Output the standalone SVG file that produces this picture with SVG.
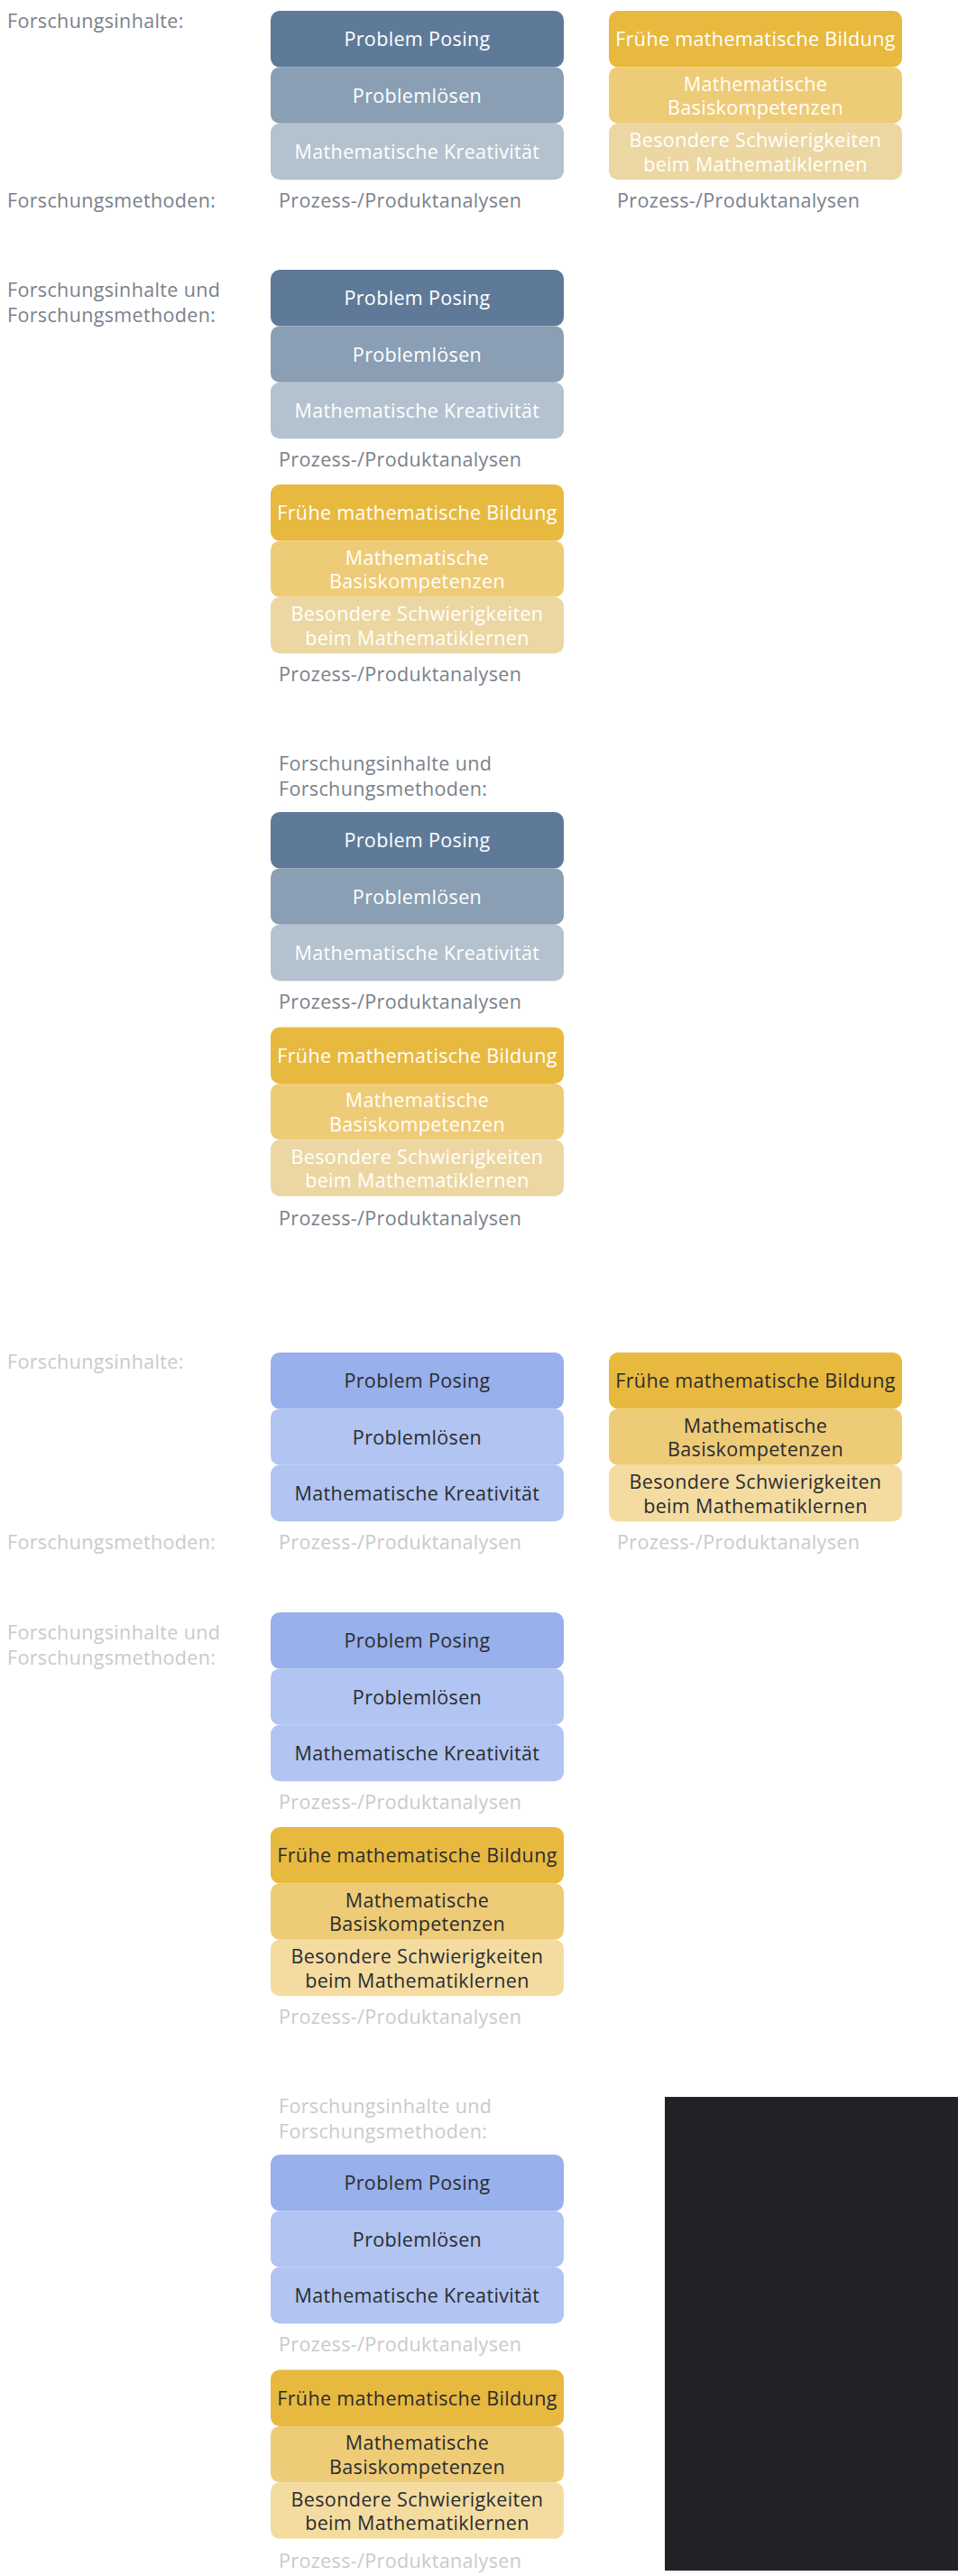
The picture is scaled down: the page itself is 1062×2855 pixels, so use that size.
<svg xmlns="http://www.w3.org/2000/svg" width="1062" height="2855" viewBox="0 0 1062 2855">
<style>
text{font-family:"Open Sans","Noto Sans",sans-serif;font-size:21.5px;letter-spacing:0.35px}
.c{text-anchor:middle}
.b1{fill:#5f7a99}.b2{fill:#8a9fb4}.b3{fill:#b4c2cf}
.y1{fill:#e8b93f}.y2{fill:#eecb76}.y3{fill:#ecd7a3}.y3b{fill:#f4dca0}
.v1{fill:#98b0eb}.v2{fill:#b1c4f2}
.tw{fill:#ffffff}.td{fill:#2b2c30}
.lg{fill:#7a818b}.ll{fill:#c9cacd}
</style>
<rect width="1062" height="2855" fill="#ffffff"/>
<g id="connectors"/>

<!-- Section 1 -->
<g id="sec1">
  <text id="s1-lbl-inhalte" class="lg" x="8" y="31">Forschungsinhalte:</text>
  <text id="s1-lbl-methoden" class="lg" x="8" y="230">Forschungsmethoden:</text>
  <g id="s1-pp"><rect class="b1" x="300" y="12" width="325" height="62.4" rx="10"/><text class="c tw" x="462.5" y="51.2">Problem Posing</text></g>
  <g id="s1-pl"><rect class="b2" x="300" y="74.4" width="325" height="62.4" rx="10"/><text class="c tw" x="462.5" y="113.6">Problemlösen</text></g>
  <g id="s1-mk"><rect class="b3" x="300" y="136.8" width="325" height="62.4" rx="10"/><text class="c tw" x="462.5" y="176">Mathematische Kreativität</text></g>
  <g id="s1-fmb"><rect class="y1" x="675" y="12" width="325" height="62.4" rx="10"/><text class="c tw" x="837.5" y="51.2">Frühe mathematische Bildung</text></g>
  <g id="s1-mbk"><rect class="y2" x="675" y="74.4" width="325" height="62.4" rx="10"/><text class="c tw" x="837.5" y="100.6">Mathematische</text><text class="c tw" x="837.5" y="127.1">Basiskompetenzen</text></g>
  <g id="s1-bsm"><rect class="y3" x="675" y="136.8" width="325" height="62.4" rx="10"/><text class="c tw" x="837.5" y="163">Besondere Schwierigkeiten</text><text class="c tw" x="837.5" y="189.5">beim Mathematiklernen</text></g>
  <text id="s1-pa1" class="lg" x="309" y="230">Prozess-/Produktanalysen</text>
  <text id="s1-pa2" class="lg" x="684" y="230">Prozess-/Produktanalysen</text>
</g>

<!-- Section 2 -->
<g id="sec2">
  <text id="s2-lbl" class="lg" x="8" y="329">Forschungsinhalte und</text>
  <text id="s2-lbl2" class="lg" x="8" y="357">Forschungsmethoden:</text>
  <g id="s2-pp"><rect class="b1" x="300" y="299" width="325" height="62.4" rx="10"/><text class="c tw" x="462.5" y="338.2">Problem Posing</text></g>
  <g id="s2-pl"><rect class="b2" x="300" y="361.4" width="325" height="62.4" rx="10"/><text class="c tw" x="462.5" y="400.6">Problemlösen</text></g>
  <g id="s2-mk"><rect class="b3" x="300" y="423.8" width="325" height="62.4" rx="10"/><text class="c tw" x="462.5" y="463">Mathematische Kreativität</text></g>
  <text id="s2-pa1" class="lg" x="309" y="517">Prozess-/Produktanalysen</text>
  <g id="s2-fmb"><rect class="y1" x="300" y="537" width="325" height="62.4" rx="10"/><text class="c tw" x="462.5" y="576.2">Frühe mathematische Bildung</text></g>
  <g id="s2-mbk"><rect class="y2" x="300" y="599.4" width="325" height="62.4" rx="10"/><text class="c tw" x="462.5" y="625.6">Mathematische</text><text class="c tw" x="462.5" y="652.1">Basiskompetenzen</text></g>
  <g id="s2-bsm"><rect class="y3" x="300" y="661.8" width="325" height="62.4" rx="10"/><text class="c tw" x="462.5" y="688">Besondere Schwierigkeiten</text><text class="c tw" x="462.5" y="714.5">beim Mathematiklernen</text></g>
  <text id="s2-pa2" class="lg" x="309" y="755">Prozess-/Produktanalysen</text>
</g>

<!-- Section 3 -->
<g id="sec3">
  <text id="s3-lbl" class="lg" x="309" y="854">Forschungsinhalte und</text>
  <text id="s3-lbl2" class="lg" x="309" y="882">Forschungsmethoden:</text>
  <g id="s3-pp"><rect class="b1" x="300" y="900" width="325" height="62.4" rx="10"/><text class="c tw" x="462.5" y="939.2">Problem Posing</text></g>
  <g id="s3-pl"><rect class="b2" x="300" y="962.4" width="325" height="62.4" rx="10"/><text class="c tw" x="462.5" y="1001.6">Problemlösen</text></g>
  <g id="s3-mk"><rect class="b3" x="300" y="1024.8" width="325" height="62.4" rx="10"/><text class="c tw" x="462.5" y="1064">Mathematische Kreativität</text></g>
  <text id="s3-pa1" class="lg" x="309" y="1118">Prozess-/Produktanalysen</text>
  <g id="s3-fmb"><rect class="y1" x="300" y="1138.5" width="325" height="62.4" rx="10"/><text class="c tw" x="462.5" y="1177.7">Frühe mathematische Bildung</text></g>
  <g id="s3-mbk"><rect class="y2" x="300" y="1200.9" width="325" height="62.4" rx="10"/><text class="c tw" x="462.5" y="1227.1">Mathematische</text><text class="c tw" x="462.5" y="1253.6">Basiskompetenzen</text></g>
  <g id="s3-bsm"><rect class="y3" x="300" y="1263.3" width="325" height="62.4" rx="10"/><text class="c tw" x="462.5" y="1289.5">Besondere Schwierigkeiten</text><text class="c tw" x="462.5" y="1316">beim Mathematiklernen</text></g>
  <text id="s3-pa2" class="lg" x="309" y="1357.5">Prozess-/Produktanalysen</text>
</g>

<!-- Section 4 -->
<g id="sec4" transform="translate(0,1487)">
  <text id="s4-lbl-inhalte" class="ll" x="8" y="30">Forschungsinhalte:</text>
  <text id="s4-lbl-methoden" class="ll" x="8" y="230">Forschungsmethoden:</text>
  <g id="s4-pp"><rect class="v1" x="300" y="12" width="325" height="62.4" rx="10"/><text class="c td" x="462.5" y="51.2">Problem Posing</text></g>
  <g id="s4-pl"><rect class="v2" x="300" y="74.4" width="325" height="62.4" rx="10"/><text class="c td" x="462.5" y="113.6">Problemlösen</text></g>
  <g id="s4-mk"><rect class="v2" x="300" y="136.8" width="325" height="62.4" rx="10"/><text class="c td" x="462.5" y="176">Mathematische Kreativität</text></g>
  <g id="s4-fmb"><rect class="y1" x="675" y="12" width="325" height="62.4" rx="10"/><text class="c td" x="837.5" y="51.2">Frühe mathematische Bildung</text></g>
  <g id="s4-mbk"><rect class="y2" x="675" y="74.4" width="325" height="62.4" rx="10"/><text class="c td" x="837.5" y="100.6">Mathematische</text><text class="c td" x="837.5" y="127.1">Basiskompetenzen</text></g>
  <g id="s4-bsm"><rect class="y3b" x="675" y="136.8" width="325" height="62.4" rx="10"/><text class="c td" x="837.5" y="163">Besondere Schwierigkeiten</text><text class="c td" x="837.5" y="189.5">beim Mathematiklernen</text></g>
  <text id="s4-pa1" class="ll" x="309" y="230">Prozess-/Produktanalysen</text>
  <text id="s4-pa2" class="ll" x="684" y="230">Prozess-/Produktanalysen</text>
</g>

<!-- Section 5 -->
<g id="sec5" transform="translate(0,1488)">
  <text id="s5-lbl" class="ll" x="8" y="329">Forschungsinhalte und</text>
  <text id="s5-lbl2" class="ll" x="8" y="357">Forschungsmethoden:</text>
  <g id="s5-pp"><rect class="v1" x="300" y="299" width="325" height="62.4" rx="10"/><text class="c td" x="462.5" y="338.2">Problem Posing</text></g>
  <g id="s5-pl"><rect class="v2" x="300" y="361.4" width="325" height="62.4" rx="10"/><text class="c td" x="462.5" y="400.6">Problemlösen</text></g>
  <g id="s5-mk"><rect class="v2" x="300" y="423.8" width="325" height="62.4" rx="10"/><text class="c td" x="462.5" y="463">Mathematische Kreativität</text></g>
  <text id="s5-pa1" class="ll" x="309" y="517">Prozess-/Produktanalysen</text>
  <g id="s5-fmb"><rect class="y1" x="300" y="537" width="325" height="62.4" rx="10"/><text class="c td" x="462.5" y="576.2">Frühe mathematische Bildung</text></g>
  <g id="s5-mbk"><rect class="y2" x="300" y="599.4" width="325" height="62.4" rx="10"/><text class="c td" x="462.5" y="625.6">Mathematische</text><text class="c td" x="462.5" y="652.1">Basiskompetenzen</text></g>
  <g id="s5-bsm"><rect class="y3b" x="300" y="661.8" width="325" height="62.4" rx="10"/><text class="c td" x="462.5" y="688">Besondere Schwierigkeiten</text><text class="c td" x="462.5" y="714.5">beim Mathematiklernen</text></g>
  <text id="s5-pa2" class="ll" x="309" y="755">Prozess-/Produktanalysen</text>
</g>

<!-- Section 6 -->
<g id="sec6" transform="translate(0,1488)">
  <text id="s6-lbl" class="ll" x="309" y="854">Forschungsinhalte und</text>
  <text id="s6-lbl2" class="ll" x="309" y="882">Forschungsmethoden:</text>
  <g id="s6-pp"><rect class="v1" x="300" y="900" width="325" height="62.4" rx="10"/><text class="c td" x="462.5" y="939.2">Problem Posing</text></g>
  <g id="s6-pl"><rect class="v2" x="300" y="962.4" width="325" height="62.4" rx="10"/><text class="c td" x="462.5" y="1001.6">Problemlösen</text></g>
  <g id="s6-mk"><rect class="v2" x="300" y="1024.8" width="325" height="62.4" rx="10"/><text class="c td" x="462.5" y="1064">Mathematische Kreativität</text></g>
  <text id="s6-pa1" class="ll" x="309" y="1118">Prozess-/Produktanalysen</text>
  <g id="s6-fmb"><rect class="y1" x="300" y="1138.5" width="325" height="62.4" rx="10"/><text class="c td" x="462.5" y="1177.7">Frühe mathematische Bildung</text></g>
  <g id="s6-mbk"><rect class="y2" x="300" y="1200.9" width="325" height="62.4" rx="10"/><text class="c td" x="462.5" y="1227.1">Mathematische</text><text class="c td" x="462.5" y="1253.6">Basiskompetenzen</text></g>
  <g id="s6-bsm"><rect class="y3b" x="300" y="1263.3" width="325" height="62.4" rx="10"/><text class="c td" x="462.5" y="1289.5">Besondere Schwierigkeiten</text><text class="c td" x="462.5" y="1316">beim Mathematiklernen</text></g>
  <text id="s6-pa2" class="ll" x="309" y="1357.5">Prozess-/Produktanalysen</text>
</g>

<rect id="dark-panel" x="737" y="2324" width="325" height="525" fill="#212226"/>
</svg>
